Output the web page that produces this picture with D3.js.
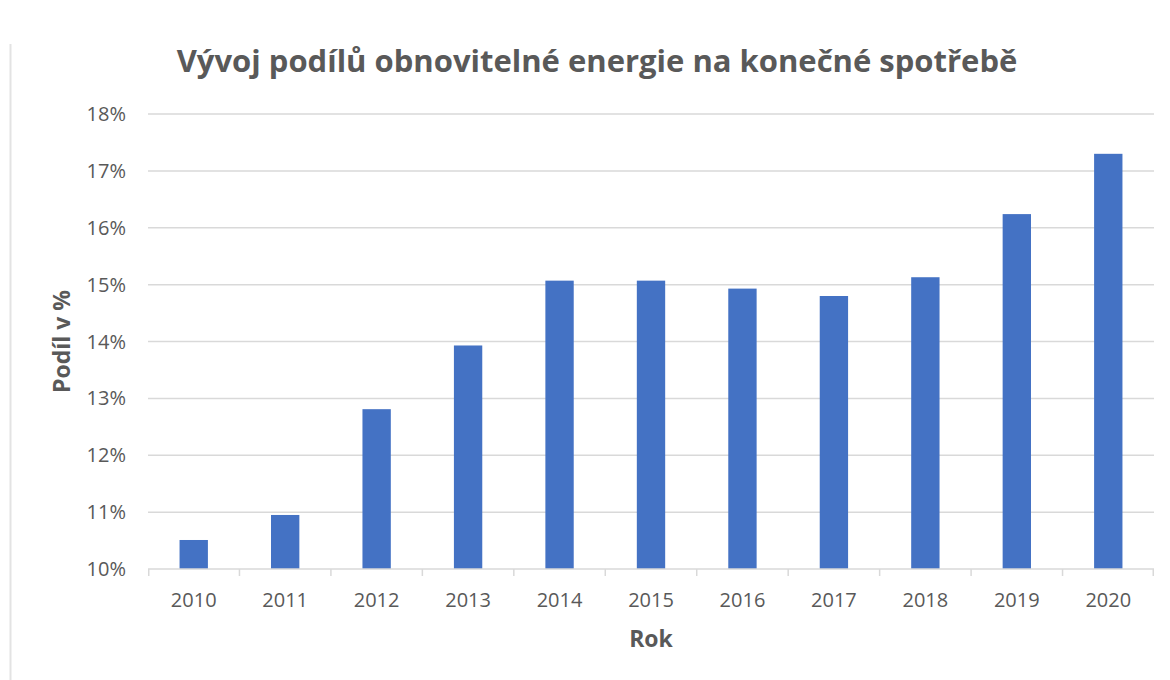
<!DOCTYPE html>
<html>
<head>
<meta charset="utf-8">
<script src="https://cdn.jsdelivr.net/npm/d3@7"></script>
<style>
  html, body { margin: 0; padding: 0; background: #fff; overflow: hidden; }
  svg { display: block; }
  svg text { font-family: "Open Sans", sans-serif; fill: #595959; }
</style>
</head>
<body>
<div id="chart"></div>
<script>
const years = ["2010", "2011", "2012", "2013", "2014", "2015", "2016", "2017", "2018", "2019", "2020"];
const shares = [10.51, 10.95, 12.81, 13.93, 15.07, 15.07, 14.93, 14.8, 15.13, 16.24, 17.3];
const yTicks = [10, 11, 12, 13, 14, 15, 16, 17, 18];

const WIDTH = 1170;
const HEIGHT = 680;
const MARGIN = { TOP: 114, RIGHT: 16, BOTTOM: 111, LEFT: 148 };
const innerWidth = WIDTH - MARGIN.LEFT - MARGIN.RIGHT;
const innerHeight = HEIGHT - MARGIN.TOP - MARGIN.BOTTOM;

const svg = d3.select("#chart")
  .append("svg")
  .attr("width", WIDTH)
  .attr("height", HEIGHT);

// faint frame edge on the left, left over from the source screenshot
svg.append("line")
  .attr("x1", 10.5).attr("x2", 10.5)
  .attr("y1", 44).attr("y2", HEIGHT)
  .attr("stroke", "#e3e3e3")
  .attr("stroke-width", 2);

const g = svg.append("g")
  .attr("transform", `translate(${MARGIN.LEFT}, ${MARGIN.TOP})`);

const x = d3.scaleBand(years, [0, innerWidth])
  .paddingInner(0.69)
  .paddingOuter(0.345);
const y = d3.scaleLinear([10, 18], [innerHeight, 0]);

// gridlines
g.append("g")
  .selectAll("line")
  .data(yTicks.slice(1))
  .join("line")
  .attr("x1", 0)
  .attr("x2", innerWidth)
  .attr("y1", (d) => y(d))
  .attr("y2", (d) => y(d))
  .attr("stroke", "#d9d9d9")
  .attr("stroke-width", 1.5);

// bars
g.append("g")
  .selectAll("rect")
  .data(shares)
  .join("rect")
  .attr("x", (d, i) => x(years[i]))
  .attr("y", (d) => y(d))
  .attr("width", x.bandwidth())
  .attr("height", (d) => y(10) - y(d))
  .attr("fill", "#4472C4");

// x axis line and boundary ticks
const xAxisG = g.append("g").attr("transform", `translate(0, ${innerHeight})`);
xAxisG.append("line")
  .attr("x1", 0).attr("x2", innerWidth)
  .attr("stroke", "#d9d9d9")
  .attr("stroke-width", 1.5);
xAxisG.selectAll(".tick-mark")
  .data(d3.range(years.length + 1))
  .join("line")
  .attr("class", "tick-mark")
  .attr("x1", (i) => i * x.step() + (i === 0 ? 0.75 : 0) - (i === years.length ? 0.75 : 0))
  .attr("x2", (i) => i * x.step() + (i === 0 ? 0.75 : 0) - (i === years.length ? 0.75 : 0))
  .attr("y1", 0)
  .attr("y2", 7)
  .attr("stroke", "#d9d9d9")
  .attr("stroke-width", 1.5);
xAxisG.selectAll(".year")
  .data(years)
  .join("text")
  .attr("class", "year")
  .attr("x", (d) => x(d) + x.bandwidth() / 2)
  .attr("y", 38)
  .style("text-anchor", "middle")
  .style("font-size", "20px")
  .text((d) => d);

// y tick labels
g.append("g")
  .selectAll("text")
  .data(yTicks)
  .join("text")
  .attr("x", -22)
  .attr("y", (d) => y(d))
  .attr("dy", "0.35em")
  .style("text-anchor", "end")
  .style("font-size", "20px")
  .text((d) => `${d}%`);

// title
svg.append("text")
  .attr("x", 597)
  .attr("y", 72)
  .style("text-anchor", "middle")
  .style("font-size", "31px")
  .style("font-weight", "bold")
  .text("Vývoj podílů obnovitelné energie na konečné spotřebě");

// axis titles
svg.append("text")
  .attr("transform", `translate(70, ${MARGIN.TOP + innerHeight / 2}) rotate(-90)`)
  .style("text-anchor", "middle")
  .style("font-size", "23px")
  .style("font-weight", "bold")
  .text("Podíl v %");

svg.append("text")
  .attr("x", MARGIN.LEFT + innerWidth / 2)
  .attr("y", 647)
  .style("text-anchor", "middle")
  .style("font-size", "23px")
  .style("font-weight", "bold")
  .text("Rok");
</script>
</body>
</html>
